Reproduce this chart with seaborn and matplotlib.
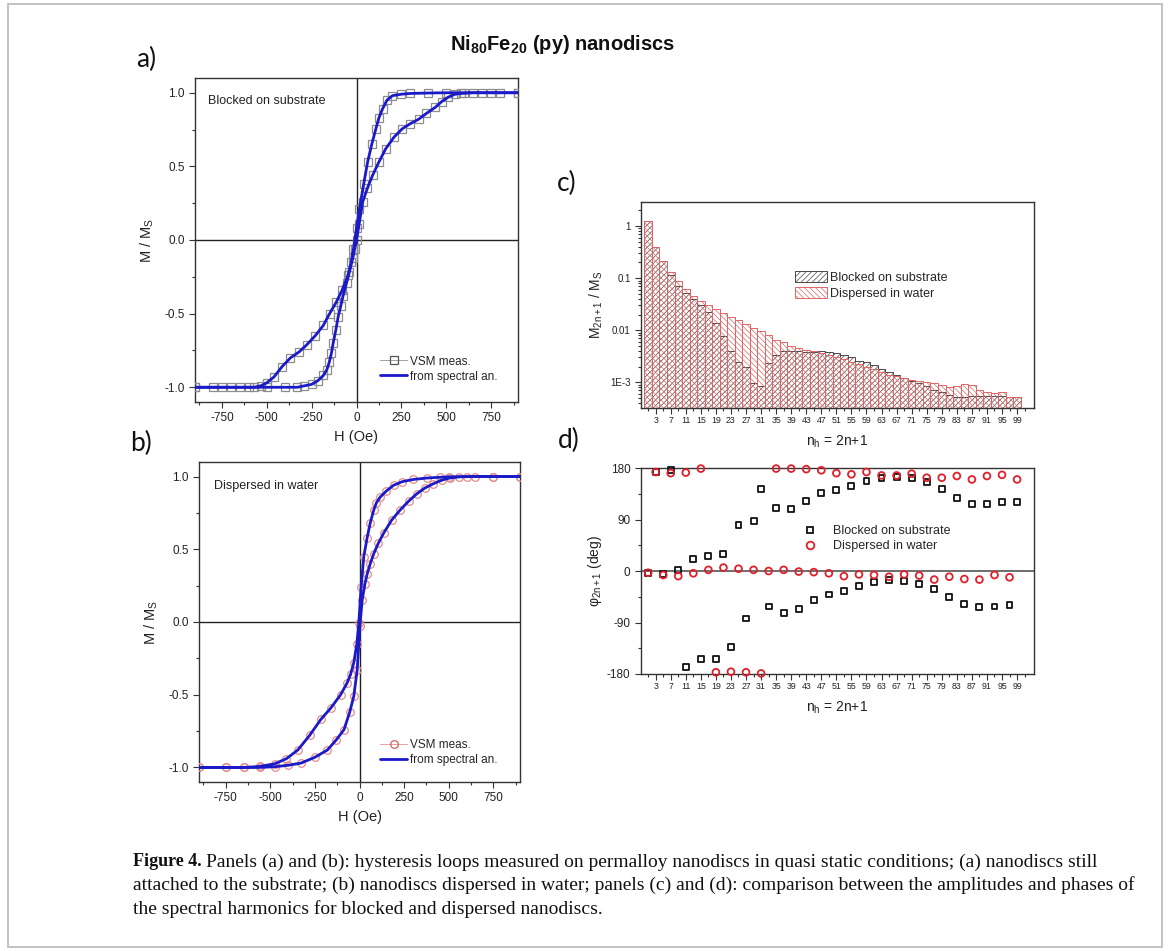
import numpy as np
import pandas as pd
import matplotlib
matplotlib.use('Agg')
import matplotlib.pyplot as plt
import seaborn as sns
from matplotlib.ticker import MultipleLocator, FixedLocator, FixedFormatter, LogLocator, NullFormatter
from matplotlib.patches import Rectangle, Patch
from matplotlib.lines import Line2D

# ---------------- data ----------------
# panel a: blocked on substrate (descending / ascending branches)
a_desc_H = [900, 800, 700, 600, 500, 400, 300, 250, 200, 170, 145, 125, 108, 85, 62, 40, 16, 0,
            -17, -30, -48, -80, -112, -150, -185, -230, -276, -320, -368, -415, -460, -500, -533,
            -570, -650, -750, -900]
a_desc_M = [1.0, 1.0, 1.0, 1.0, 1.0, 0.998, 0.995, 0.99, 0.98, 0.95, 0.89, 0.83, 0.755, 0.65, 0.53,
            0.38, 0.21, 0.08, -0.06, -0.15, -0.24, -0.34, -0.42, -0.50, -0.58, -0.65, -0.71, -0.76,
            -0.80, -0.86, -0.93, -0.97, -0.99, -1.0, -1.0, -1.0, -1.0]
a_asc_H = [-900, -800, -700, -600, -500, -400, -330, -290, -250, -215, -185, -165, -152, -140, -130,
           -115, -102, -88, -75, -55, -40, -20, -10, 0, 15, 35, 60, 90, 125, 163, 210, 255, 300, 346,
           390, 438, 475, 511, 550, 584, 650, 750, 900]
a_asc_M = [-1.0, -1.0, -1.0, -1.0, -1.0, -1.0, -1.0, -0.99, -0.98, -0.955, -0.92, -0.88, -0.83,
           -0.77, -0.70, -0.61, -0.52, -0.45, -0.38, -0.29, -0.22, -0.12, -0.06, 0.0, 0.11, 0.26,
           0.35, 0.44, 0.53, 0.62, 0.70, 0.755, 0.79, 0.82, 0.86, 0.90, 0.94, 0.97, 0.99, 0.995,
           1.0, 1.0, 1.0]

# panel b: dispersed in water
b_desc_H = [900, 750, 600, 500, 450, 380, 302, 240, 191, 150, 117, 95, 80, 60, 43, 24, 9, -4, -15,
            -32, -50, -70, -106, -160, -217, -280, -346, -410, -476, -560, -650, -750, -900]
b_desc_M = [1.0, 1.0, 1.0, 0.998, 0.995, 0.99, 0.98, 0.965, 0.94, 0.90, 0.86, 0.82, 0.77, 0.68,
            0.58, 0.45, 0.24, -0.01, -0.15, -0.28, -0.36, -0.42, -0.50, -0.59, -0.67, -0.78, -0.88,
            -0.94, -0.975, -0.993, -1.0, -1.0, -1.0]
b_asc_H = [-900, -750, -650, -560, -476, -400, -328, -250, -180, -130, -87, -55, -32, -13, 2, 15,
           30, 43, 60, 80, 105, 135, 180, 228, 275, 320, 365, 413, 460, 506, 560, 650, 750, 900]
b_asc_M = [-1.0, -1.0, -1.0, -1.0, -0.995, -0.985, -0.97, -0.93, -0.88, -0.81, -0.74, -0.62,
           -0.51, -0.33, -0.03, 0.15, 0.26, 0.33, 0.40, 0.47, 0.54, 0.61, 0.70, 0.77, 0.83, 0.88,
           0.92, 0.95, 0.975, 0.99, 0.998, 1.0, 1.0, 1.0]

# panels c, d: harmonics
harm_n = list(range(1, 100, 2))
amp_blocked = [1.25, 0.39, 0.21, 0.115, 0.072, 0.051, 0.039, 0.030, 0.022, 0.014,
               0.0078, 0.0039, 0.0025, 0.0020, 0.00098, 0.00085, 0.0023, 0.0034, 0.0039, 0.0039,
               0.0039, 0.0038, 0.0038, 0.0039, 0.0038, 0.0036, 0.0033, 0.0030, 0.0026, 0.0024,
               0.0021, 0.0018, 0.0016, 0.0014, 0.0012, 0.00105, 0.00095, 0.00085, 0.00072, 0.00065,
               0.00058, 0.00053, 0.00053, 0.00054, 0.00055, 0.00055, 0.00054, 0.00054, 0.00053, 0.00052]
amp_dispersed = [1.25, 0.39, 0.21, 0.13, 0.087, 0.061, 0.045, 0.037, 0.030, 0.025,
                 0.021, 0.018, 0.016, 0.013, 0.011, 0.0095, 0.0080, 0.0065, 0.0058, 0.0050,
                 0.0045, 0.0042, 0.0039, 0.0037, 0.0034, 0.0031, 0.0028, 0.0025, 0.0022, 0.0020,
                 0.0018, 0.0016, 0.0014, 0.0013, 0.0012, 0.00112, 0.00105, 0.00102, 0.00095, 0.00088,
                 0.00080, 0.00085, 0.00092, 0.00090, 0.00072, 0.00066, 0.00062, 0.00064, 0.00053, 0.00052]
phase_blocked = [-3, 173, -6, 176, 2, -167, 21.5, -154, 26, -154, 30, -133, 81, -83, 87, 143,
                 -62, 110, -73, 108, -67, 122, -50, 136, -41, 142, -35, 149, -26, 158, -19, 163,
                 -16, 164, -17, 162, -22, 155, -31, 143, -45, 128, -58, 117, -63, 117, -62, 120,
                 -60, 120]
phase_dispersed = [-3, 173, -7, 171, -9, 172, -4, 179, 2, -177, 6, -176, 4, -177, 2, -179,
                   0, 179, 2, 179, -1, 178, -2, 176, -4, 171, -9, 169, -6, 173, -7, 167,
                   -10, 167, -6, 170, -8, 163, -15, 163, -10, 166, -14, 160, -15, 166, -7, 168,
                   -11, 160]
n_tick_labels = [str(v) for v in range(3, 100, 4)]

# ---------------- style ----------------
sns.set_theme(style='ticks')
plt.rcParams['font.family'] = ['Liberation Sans', 'DejaVu Sans']
plt.rcParams['mathtext.fontset'] = 'custom'
plt.rcParams['mathtext.rm'] = 'Liberation Sans'
plt.rcParams['mathtext.it'] = 'Liberation Sans:italic'
plt.rcParams['mathtext.bf'] = 'Liberation Sans:bold'
plt.rcParams['axes.unicode_minus'] = False
plt.rcParams['hatch.linewidth'] = 0.5

BLUE = '#1a1ac8'
AX_C = '#333333'

fig = plt.figure(figsize=(11.7, 9.51), dpi=100)
W, Hh = 1170.0, 951.0


def add_ax(l, t, r, b):
    return fig.add_axes([l / W, 1 - b / Hh, (r - l) / W, (b - t) / Hh])


def style(ax, lsize=8.5):
    for s in ax.spines.values():
        s.set_color(AX_C)
        s.set_linewidth(1.0)
    ax.tick_params(which='both', direction='out', colors=AX_C, labelcolor='#222222',
                   labelsize=lsize, width=0.8, top=False, right=False)
    ax.tick_params(which='major', length=4)
    ax.tick_params(which='minor', length=2.5)


def loop_panel(ax, dH, dM, aH, aM, mk, mcol, lcol, ms):
    for Hs, Ms in ((dH, dM), (aH, aM)):
        df = pd.DataFrame({'H': Hs, 'M': Ms})
        sns.lineplot(data=df, x='H', y='M', sort=False, estimator=None, ax=ax, color=lcol,
                     lw=0.7, marker=mk, markersize=ms, zorder=3)
        ln = ax.lines[-1]
        ln.set_markerfacecolor('none')
        ln.set_markeredgecolor(mcol)
        ln.set_markeredgewidth(0.9)
    for Hs, Ms in ((dH, dM), (aH, aM)):
        df = pd.DataFrame({'H': Hs, 'M': Ms})
        sns.lineplot(data=df, x='H', y='M', sort=False, estimator=None, ax=ax, color=BLUE,
                     lw=2.0, zorder=4)
    ax.axhline(0, color='#222222', lw=1.0, zorder=1)
    ax.axvline(0, color='#222222', lw=1.0, zorder=1)
    ax.set_xlim(-900, 900)
    ax.set_ylim(-1.1, 1.1)
    ax.xaxis.set_major_locator(FixedLocator([-750, -500, -250, 0, 250, 500, 750]))
    ax.xaxis.set_minor_locator(MultipleLocator(125))
    ax.yaxis.set_major_locator(MultipleLocator(0.5))
    ax.yaxis.set_minor_locator(MultipleLocator(0.25))
    ax.yaxis.set_major_formatter(matplotlib.ticker.FormatStrFormatter('%.1f'))
    ax.set_xlabel('H (Oe)', fontsize=10.5, color='#222222', labelpad=4)
    ax.set_ylabel('M / M$_\\mathrm{S}$', fontsize=10.5, color='#222222', labelpad=6)
    style(ax)


# ---------------- panel a ----------------
axa = add_ax(195, 78, 518, 402)
loop_panel(axa, a_desc_H, a_desc_M, a_asc_H, a_asc_M, 's', '#8c8c8c', '#a8a8a8', 5.5)
axa.text(0.04, 0.929, 'Blocked on substrate', transform=axa.transAxes, fontsize=9,
         va='center', ha='left', color='#222222')
ha = [Line2D([], [], color='#a0a0a0', lw=0.7, marker='s', ms=5.5, mfc='none', mec='#555555', mew=0.9),
      Line2D([], [], color=BLUE, lw=2.0)]
axa.legend(ha, ['VSM meas.', 'from spectral an.'], loc='lower left',
           bbox_to_anchor=(0.573, 0.06), frameon=False, fontsize=8.5, handlelength=2.3,
           handletextpad=0.25, labelspacing=0.25, borderpad=0, borderaxespad=0)

# ---------------- panel b ----------------
axb = add_ax(199, 462, 520, 782)
loop_panel(axb, b_desc_H, b_desc_M, b_asc_H, b_asc_M, 'o', '#e28c8c', '#efb4b4', 5.5)
axb.text(0.047, 0.925, 'Dispersed in water', transform=axb.transAxes, fontsize=9,
         va='center', ha='left', color='#222222')
hb = [Line2D([], [], color='#e8a0a0', lw=0.7, marker='o', ms=5.5, mfc='none', mec='#d06060', mew=0.9),
      Line2D([], [], color=BLUE, lw=2.0)]
axb.legend(hb, ['VSM meas.', 'from spectral an.'], loc='lower left',
           bbox_to_anchor=(0.564, 0.05), frameon=False, fontsize=8.5, handlelength=2.3,
           handletextpad=0.25, labelspacing=0.25, borderpad=0, borderaxespad=0)

# ---------------- panel c ----------------
axc = add_ax(641, 202, 1034, 408)
dfc = pd.DataFrame({'n': harm_n, 'blocked': amp_blocked, 'dispersed': amp_dispersed})
sns.barplot(data=dfc, x='n', y='blocked', ax=axc, native_scale=True, width=1.0,
            color='#4a4a4a', fill=False, hatch='//////', linewidth=0.7, errorbar=None)
sns.barplot(data=dfc, x='n', y='dispersed', ax=axc, native_scale=True, width=1.0,
            color='#e06565', fill=False, hatch='\\\\\\\\\\\\', linewidth=0.7, errorbar=None)
axc.set_yscale('log')
axc.set_ylim(3.2e-4, 2.9)
axc.set_xlim(-0.9, 103.5)
axc.yaxis.set_major_locator(FixedLocator([1e-3, 1e-2, 1e-1, 1]))
axc.yaxis.set_major_formatter(FixedFormatter(['1E-3', '0.01', '0.1', '1']))
axc.yaxis.set_minor_locator(LogLocator(base=10, subs=np.arange(2, 10)))
axc.yaxis.set_minor_formatter(NullFormatter())
axc.xaxis.set_major_locator(FixedLocator(list(range(3, 100, 4))))
axc.xaxis.set_major_formatter(FixedFormatter(n_tick_labels))
axc.xaxis.set_minor_locator(FixedLocator(list(range(1, 102, 4))))
style(axc, 7)
axc.tick_params(axis='x', labelsize=6.3, pad=2)
axc.set_xlabel('n$_\\mathrm{h}$ = 2n+1', fontsize=10, color='#222222', labelpad=6)
axc.set_ylabel('M$_\\mathrm{2n+1}$ / M$_\\mathrm{S}$', fontsize=10, color='#222222', labelpad=4)
hc = [Patch(facecolor='none', edgecolor='#4a4a4a', hatch='//////', lw=0.7),
      Patch(facecolor='none', edgecolor='#e06565', hatch='\\\\\\\\\\\\', lw=0.7)]
axc.legend(hc, ['Blocked on substrate', 'Dispersed in water'], loc='upper left',
           bbox_to_anchor=(0.392, 0.665), frameon=False, fontsize=9, handlelength=2.56,
           handleheight=1.0, handletextpad=0.25, labelspacing=0.25, borderpad=0, borderaxespad=0)

# ---------------- panel d ----------------
axd = add_ax(641, 468, 1034, 674)
dfd = pd.DataFrame({'n': harm_n, 'blocked': phase_blocked, 'dispersed': phase_dispersed})
sns.scatterplot(data=dfd, x='n', y='blocked', ax=axd, marker='s', s=18, color='none',
                edgecolor='#111111', linewidth=1.3, clip_on=False, zorder=3)
sns.scatterplot(data=dfd, x='n', y='dispersed', ax=axd, marker='o', s=24, color='none',
                edgecolor='#e0202a', linewidth=1.3, clip_on=False, zorder=4)
axd.axhline(0, color='#555555', lw=1.2, zorder=1)
axd.set_xlim(-0.9, 103.5)
axd.set_ylim(-180, 180)
axd.yaxis.set_major_locator(MultipleLocator(90))
axd.yaxis.set_minor_locator(MultipleLocator(45))
axd.xaxis.set_major_locator(FixedLocator(list(range(3, 100, 4))))
axd.xaxis.set_major_formatter(FixedFormatter(n_tick_labels))
axd.xaxis.set_minor_locator(FixedLocator(list(range(1, 102, 4))))
style(axd, 8.5)
axd.tick_params(axis='x', labelsize=6.3, pad=2)
axd.set_xlabel('n$_\\mathrm{h}$ = 2n+1', fontsize=10, color='#222222', labelpad=6)
axd.set_ylabel('\u03c6$_\\mathrm{2n+1}$ (deg)', fontsize=10, color='#222222', labelpad=2)
hd = [Line2D([], [], ls='none', marker='s', ms=5, mfc='none', mec='#111111', mew=1.3),
      Line2D([], [], ls='none', marker='o', ms=5.5, mfc='none', mec='#e0202a', mew=1.3)]
axd.legend(hd, ['Blocked on substrate', 'Dispersed in water'], loc='upper left',
           bbox_to_anchor=(0.414, 0.723), frameon=False, fontsize=9, handlelength=1.0,
           handletextpad=1.34, labelspacing=0.25, borderpad=0, borderaxespad=0)

# ---------------- figure texts ----------------
fig.text(450 / W, 1 - 45 / Hh, 'Ni$_\\mathbf{80}$Fe$_\\mathbf{20}$ (py) nanodiscs',
         fontsize=14.5, fontweight='bold', ha='left', va='center', color='#111111')
for lab, x, y in (('a)', 146, 59), ('b)', 141, 443), ('c)', 567, 183), ('d)', 569, 440)):
    fig.text(x / W, 1 - y / Hh, lab, fontsize=19, ha='center', va='center', color='#111111',
             family=['Lato', 'DejaVu Sans'])

fig.add_artist(Rectangle((8 / W, 1 - 947 / Hh), (1162 - 8) / W, (947 - 4) / Hh,
                         transform=fig.transFigure, fill=False, edgecolor='#bdbdbd', lw=1.3))

cap_font = ['Liberation Serif', 'DejaVu Serif']
cap_size = 14.0
t0 = fig.text(133 / W, 1 - 862 / Hh, 'Figure 4.', fontsize=13.0, fontweight='bold',
              family=cap_font, ha='left', va='center', color='#111111')
r = fig.canvas.get_renderer()
bb = t0.get_window_extent(renderer=r)
fig.text((bb.x1 + 4) / W, 1 - 862 / Hh,
         'Panels (a) and (b): hysteresis loops measured on permalloy nanodiscs in quasi static '
         'conditions; (a) nanodiscs still', fontsize=cap_size, family=cap_font, ha='left',
         va='center', color='#111111')
fig.text(133 / W, 1 - 885.5 / Hh,
         'attached to the substrate; (b) nanodiscs dispersed in water; panels (c) and (d): '
         'comparison between the amplitudes and phases of', fontsize=cap_size, family=cap_font,
         ha='left', va='center', color='#111111')
fig.text(133 / W, 1 - 909 / Hh,
         'the spectral harmonics for blocked and dispersed nanodiscs.', fontsize=cap_size,
         family=cap_font, ha='left', va='center', color='#111111')

fig.savefig('out.png', dpi=100)
